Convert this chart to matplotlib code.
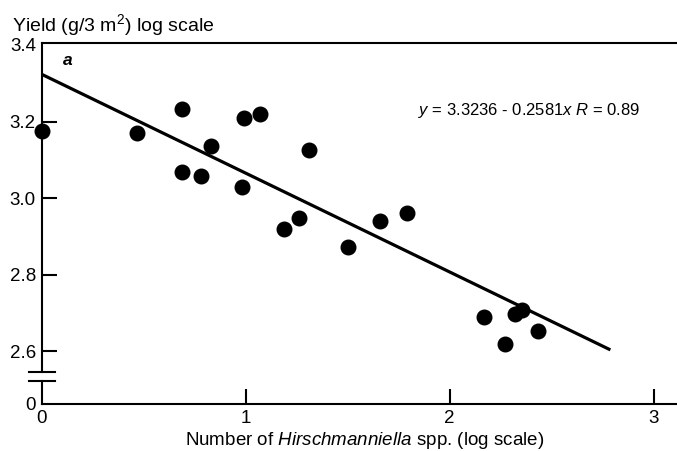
import numpy as np
import matplotlib
matplotlib.use("Agg")
import matplotlib.pyplot as plt

plt.rcParams['font.family'] = ['Liberation Sans', 'DejaVu Sans']
plt.rcParams['mathtext.fontset'] = 'custom'
plt.rcParams['mathtext.rm'] = 'Liberation Sans'
plt.rcParams['mathtext.it'] = 'Liberation Sans:italic'

# data (log10 scales)
nematodes = [0.0, 0.47, 0.69, 0.69, 0.78, 0.83, 0.98, 0.99, 1.07, 1.19,
             1.26, 1.31, 1.50, 1.66, 1.79, 2.17, 2.27, 2.32, 2.355, 2.43]
yield_log = [3.175, 3.171, 3.234, 3.068, 3.059, 3.137, 3.030, 3.210, 3.219, 2.919,
             2.948, 3.126, 2.873, 2.941, 2.962, 2.691, 2.619, 2.698, 2.708, 2.653]
intercept = 3.3236
slope = -0.2581
fit_x = [0.0, 2.78]

y_ticks = [2.6, 2.8, 3.0, 3.2, 3.4]
x_ticks = [0, 1, 2, 3]

y_bottom, y_top = 2.463, 3.405
brk_lo, brk_hi = 2.523, 2.546

fig = plt.figure(figsize=(6.77, 4.51), dpi=100)
ax = fig.add_axes([41.5 / 677, 47 / 451, 1 - 41.5 / 677 + 0.005, (404 - 43) / 451])

ax.scatter(nematodes, yield_log, s=110, color='black', zorder=3, clip_on=False)
fx = np.array(fit_x)
ax.plot(fx, intercept + slope * fx, color='black', lw=2.3)

ax.set_xlim(0, 3.13)
ax.set_ylim(y_bottom, y_top)

ax.spines['right'].set_visible(False)
for s in ['left', 'top', 'bottom']:
    ax.spines[s].set_linewidth(1.5)
# broken y axis
ax.spines['left'].set_bounds(brk_hi, y_top)
ax.plot([0, 0], [y_bottom, brk_lo], color='black', lw=1.5, clip_on=False)
for yb in [brk_lo, brk_hi]:
    ax.plot([-0.06, 0.066], [yb, yb], color='black', lw=1.5, clip_on=False)

ax.set_yticks([y_bottom] + y_ticks, labels=['0'] + [f'{v:.1f}' for v in y_ticks])
ax.set_xticks(x_ticks, labels=[str(v) for v in x_ticks])
ax.tick_params(axis='y', direction='in', length=11, width=1.5, pad=4, labelsize=13.5)
ax.tick_params(axis='x', direction='in', length=11, width=1.5, pad=4, labelsize=13.5)
ax.yaxis.get_major_ticks()[0].tick1line.set_visible(False)
ax.yaxis.get_major_ticks()[-1].tick1line.set_visible(False)
ax.xaxis.get_major_ticks()[0].tick1line.set_visible(False)

fig.text(12 / 677, 1 - 25 / 451, 'Yield (g/3 m$^2$) log scale', fontsize=14,
         ha='left', va='center')
ax.text(0.13, 3.36, 'a', fontsize=12.5, fontstyle='italic', fontweight='bold',
        ha='center', va='center')
ax.text(2.39, 3.23, r'$\it{y}$ = 3.3236 - 0.2581$\it{x}$ $\it{R}$ = 0.89',
        fontsize=12, ha='center', va='center')
ax.set_xlabel(r'Number of $\it{Hirschmanniella}$ spp. (log scale)', fontsize=13.5)
ax.xaxis.set_label_coords(0.506, -0.072)

fig.savefig('out.png', dpi=100)
